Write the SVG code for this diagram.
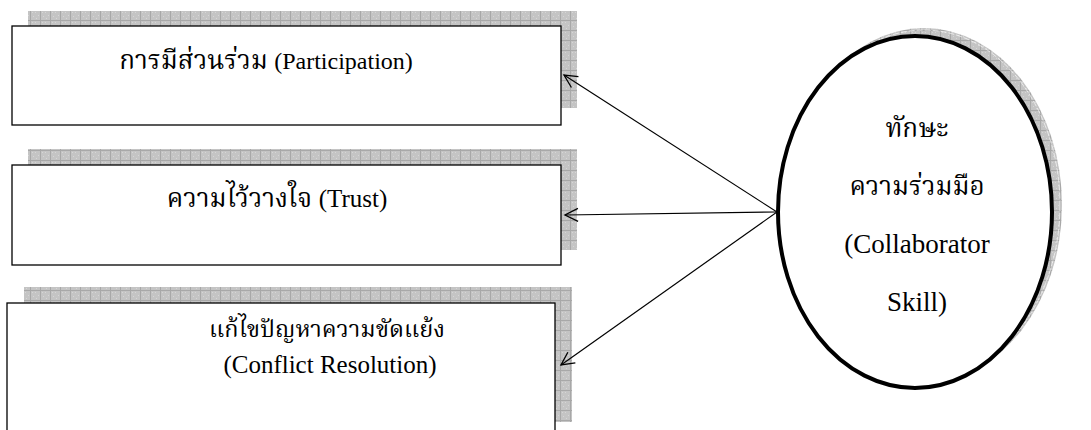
<svg xmlns="http://www.w3.org/2000/svg" width="1091" height="430" viewBox="0 0 1091 430">
<style>
.box{fill:#fff;stroke:#000;stroke-width:1.3}
.shadow{fill:url(#grid)}
.t{font-family:"Liberation Serif","Noto Serif Thai","Noto Sans Thai","DejaVu Sans",serif;fill:#000;text-anchor:middle}
.th{font-size:26px}
.en{font-size:24px}
.et{font-size:27px}
.conn{stroke:#000;stroke-width:1.2;fill:none;marker-end:url(#arr)}
</style>
<defs>
<pattern id="grid" width="10" height="10" patternUnits="userSpaceOnUse">
<rect width="10" height="10" fill="#c4c4c4"/>
<path d="M0 0.5H10M0.5 0V10" stroke="#a8a8a8" stroke-width="1"/>
<path d="M2 2h1v1h-1zM5 2h1v1h-1zM8 5h1v1h-1zM3 6h1v1h-1zM6 8h1v1h-1z" fill="#d6d6d6"/>
</pattern>
<marker id="arr" markerWidth="16" markerHeight="16" refX="14" refY="8" orient="auto" markerUnits="userSpaceOnUse">
<path d="M1 1.5L14 8L1 14.5" fill="none" stroke="#000" stroke-width="1.3"/>
</marker>
</defs>
<g id="node-participation">
<rect class="shadow" x="28" y="11" width="549" height="97"/>
<rect class="box" x="12" y="26" width="549" height="99"/>
<text class="t" x="266" y="69"><tspan class="th">การมีส่วนร่วม </tspan><tspan class="en">(Participation)</tspan></text>
</g>
<g id="node-trust">
<rect class="shadow" x="28" y="149" width="549" height="101"/>
<rect class="box" x="12" y="165" width="549" height="100"/>
<text class="t" x="277" y="207"><tspan class="th">ความไว้วางใจ </tspan><tspan class="en" style="font-size:25px">(Trust)</tspan></text>
</g>
<g id="node-conflict">
<rect class="shadow" x="24" y="287" width="548" height="135"/>
<rect class="box" x="7" y="303" width="548" height="140"/>
<text class="t" x="327" y="337" style="font-size:23.5px">แก้ไขปัญหาความขัดแย้ง</text>
<text class="t" x="330" y="373" style="font-size:25px">(Conflict Resolution)</text>
</g>
<g id="node-skill">
<ellipse class="shadow" cx="924" cy="205" rx="138" ry="177"/>
<ellipse cx="924" cy="205" rx="136" ry="175" fill="none" stroke="#fff" stroke-width="0.8" stroke-dasharray="6 2" opacity="0.8"/>
<ellipse cx="915" cy="212" rx="137" ry="176" fill="#fff" stroke="#000" stroke-width="4"/>
<text class="t th" x="917" y="137">ทักษะ</text>
<text class="t th" x="917" y="195">ความร่วมมือ</text>
<text class="t et" x="917" y="253">(Collaborator</text>
<text class="t et" x="917" y="311">Skill)</text>
</g>
<g id="connectors">
<line class="conn" x1="777" y1="212" x2="564" y2="75"/>
<line class="conn" x1="777" y1="212" x2="565" y2="215"/>
<line class="conn" x1="777" y1="212" x2="561" y2="365"/>
</g>
</svg>
